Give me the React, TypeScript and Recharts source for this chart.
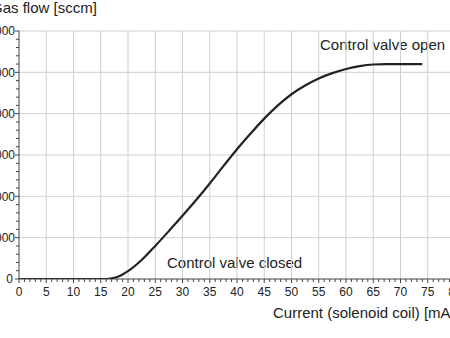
import React from 'react';
import { LineChart, Line, XAxis, YAxis, ReferenceLine, Customized } from 'recharts';

// Data
const currentMA = [0, 5, 10, 15, 16, 17, 18, 19, 20, 22.5, 25, 27.5, 30, 32.5, 35, 37.5, 40, 42.5, 45, 47.5, 50, 52.5, 55, 57.5, 60, 62.5, 65, 67.5, 70, 74];
const gasFlow = [0, 0, 0, 0, 0, 15, 50, 110, 190, 460, 800, 1160, 1530, 1910, 2310, 2730, 3140, 3520, 3880, 4200, 4470, 4680, 4850, 4980, 5080, 5150, 5190, 5200, 5200, 5200];

const xMajorTicks = [0, 5, 10, 15, 20, 25, 30, 35, 40, 45, 50, 55, 60, 65, 70, 75, 80];
const yMajorTicks = [0, 1000, 2000, 3000, 4000, 5000, 6000];
const xAllTicks = Array.from({ length: 81 }, (_, i) => i);
const yAllTicks = Array.from({ length: 31 }, (_, i) => i * 200);

const yTitle = 'Gas flow [sccm]';
const xTitle = 'Current (solenoid coil) [mA]';
const openLabel = 'Control valve open';
const closedLabel = 'Control valve closed';

const data = currentMA.map((c, i) => ({ current: c, flow: gasFlow[i] }));

const OFFSET = 39;
const FONT = '"Liberation Sans", Arial, sans-serif';
const AXIS_COLOR = '#444';
const GRID_COLOR = '#cfcfcf';

const XTick = (props: any) => {
  const { x, y, payload } = props;
  const v = payload.value;
  const major = v % 5 === 0;
  return (
    <g>
      <line x1={x} x2={x} y1={y} y2={y + (major ? 4 : 3)} stroke={AXIS_COLOR} strokeWidth={1} />
      {major && (
        <text x={x} y={y + 17} textAnchor="middle" fontSize={12} fill="#222" fontFamily={FONT}>
          {v}
        </text>
      )}
    </g>
  );
};

const YTick = (props: any) => {
  const { x, y, payload } = props;
  const v = payload.value;
  const major = v % 1000 === 0;
  return (
    <g>
      <line x1={x} x2={x - (major ? 4 : 3)} y1={y} y2={y} stroke={AXIS_COLOR} strokeWidth={1} />
      {major && (
        <text x={x - (v === 0 ? 6 : 4)} y={y + 4.3} textAnchor="end" fontSize={12} fill="#222" fontFamily={FONT}>
          {v}
        </text>
      )}
    </g>
  );
};

const Texts = () => (
  <g fontFamily={FONT} fontSize={15} fill="#222">
    <text x={-9 + OFFSET} y={13}>{yTitle}</text>
    <text x={273 + OFFSET} y={318}>{xTitle}</text>
    <text x={320 + OFFSET} y={50}>{openLabel}</text>
    <text x={167 + OFFSET} y={268}>{closedLabel}</text>
  </g>
);

export default function App() {
  return (
    <div style={{ position: 'fixed', left: 0, top: 0, width: 450, height: 338, overflow: 'hidden', background: '#fff' }}>
      <div style={{ position: 'absolute', left: -OFFSET, top: 0 }}>
        <LineChart width={500} height={338} data={data} margin={{ top: 31, right: 6, bottom: 0, left: 0 }} style={{ fontFamily: FONT }}>
          {xMajorTicks.slice(1).map((v) => (
            <ReferenceLine key={'gx' + v} x={v} stroke={GRID_COLOR} strokeWidth={1} ifOverflow="visible" />
          ))}
          {yMajorTicks.slice(1).map((v) => (
            <ReferenceLine key={'gy' + v} y={v} stroke={GRID_COLOR} strokeWidth={1} ifOverflow="visible" />
          ))}
          <XAxis
            dataKey="current"
            type="number"
            domain={[0, 80]}
            ticks={xAllTicks}
            interval={0}
            tickSize={0}
            tickMargin={0}
            tickLine={false}
            tick={<XTick />}
            height={59}
            axisLine={{ stroke: AXIS_COLOR }}
            allowDataOverflow
          />
          <YAxis
            type="number"
            domain={[0, 6000]}
            ticks={yAllTicks}
            interval={0}
            tickSize={0}
            tickMargin={0}
            tickLine={false}
            tick={<YTick />}
            width={58}
            axisLine={{ stroke: AXIS_COLOR }}
            allowDataOverflow
          />
          <Line
            type="monotone"
            dataKey="flow"
            stroke="#222"
            strokeWidth={2.2}
            dot={false}
            activeDot={false}
            isAnimationActive={false}
          />
          <Customized component={Texts} />
        </LineChart>
      </div>
    </div>
  );
}
